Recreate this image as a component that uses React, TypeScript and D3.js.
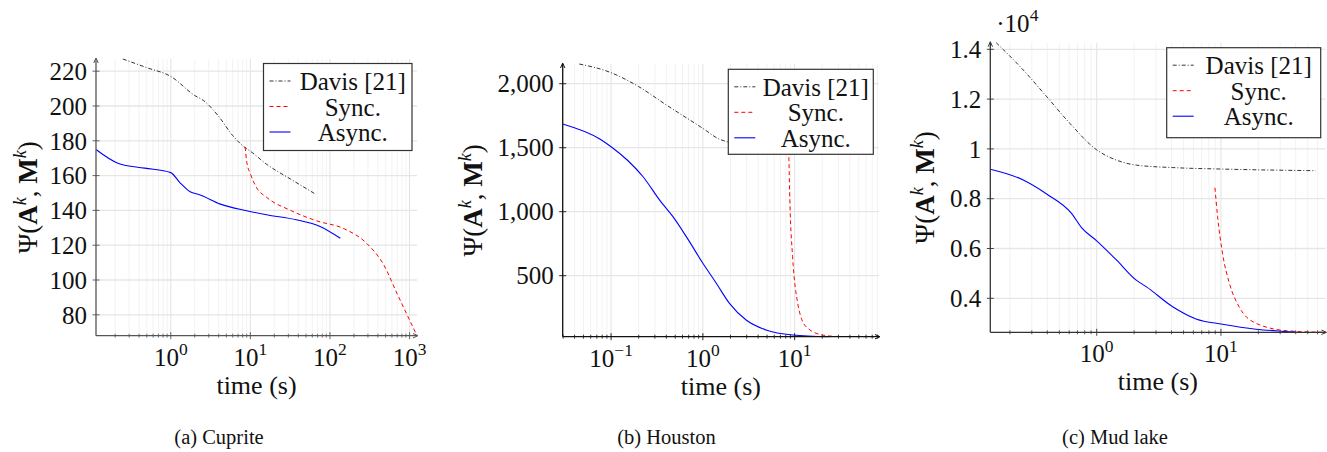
import * as React from 'react';
import { useEffect, useRef } from 'react';
import * as d3 from 'd3';

type Pt = [number, number];

// values (time in s, objective value)
const cupriteDavis: Pt[] = [
  [0.25, 227], [0.5, 222], [1, 217], [2, 206], [2.6, 203], [4, 194], [6, 183],
  [8.6, 176], [10, 174], [16, 166.5], [32, 158], [64, 149.7],
];
const cupriteSync: Pt[] = [
  [8.6, 176.5], [9.0, 168], [10, 161], [12, 153], [16, 147.5], [32, 140], [68, 134],
  [150, 129.5], [290, 121], [470, 109], [700, 92], [1240, 68],
];
const cupriteAsync: Pt[] = [
  [0.115, 175], [0.22, 167], [0.47, 164.3], [1, 161.7], [1.3, 156], [1.75, 150.7], [2.3, 149],
  [4.2, 143.6], [9, 139.8], [16, 137.5], [38, 134.6], [75, 130.8], [135, 124],
];

const houstonDavis: Pt[] = [
  [0.045, 2154], [0.1, 2086], [0.2, 1977], [0.4, 1834], [1, 1651], [1.5, 1568],
  [2, 1540], [5, 1495], [10, 1470], [20, 1450],
];
const houstonSync: Pt[] = [
  [8.55, 1480], [8.6, 1456], [8.9, 1039], [9.5, 648], [10.8, 284], [13.3, 102],
  [20, 37], [30, 25], [83, 23.4],
];
const houstonAsync: Pt[] = [
  [0.0297, 1685], [0.0753, 1568], [0.1, 1508], [0.153, 1398], [0.223, 1273],
  [0.338, 1091], [0.472, 961], [0.66, 805], [1, 597], [1.4, 441], [1.95, 284],
  [2.96, 154], [4.87, 76], [9.5, 37], [23.8, 23.4],
];

const mudDavis: Pt[] = [
  [0.155, 14265], [0.256, 13170], [0.395, 12100], [0.607, 11030], [1, 9960],
  [1.44, 9550], [2.08, 9350], [4.09, 9250], [10.3, 9190], [57.8, 9125],
];
const mudSync: Pt[] = [
  [8.95, 8440], [9.4, 7280], [10.3, 5810], [11.7, 4600], [14, 3660], [19.1, 3000],
  [35.3, 2690], [69.5, 2635],
];
const mudAsync: Pt[] = [
  [0.139, 9180], [0.256, 8750], [0.395, 8190], [0.627, 7410], [0.754, 6840],
  [1, 6310], [1.44, 5540], [2.08, 4730], [2.5, 4470], [4.09, 3660], [6.3, 3170],
  [10.3, 2960], [19.1, 2760], [35.3, 2660], [40, 2640],
];

const seriesNames = ['Davis [21]', 'Sync.', 'Async.'];
const seriesColors = ['#000000', '#ff0000', '#0000ff'];
const seriesDash = ['4 2 1 2', '4 3', ''];
const seriesWidth = [0.8, 1, 1.1];

const cupriteYTicks = [80, 100, 120, 140, 160, 180, 200, 220];
const houstonYTicks = [500, 1000, 1500, 2000];
const mudYTicks = [4000, 6000, 8000, 10000, 12000, 14000];
const cupriteXTicks = [1, 10, 100, 1000];
const houstonXTicks = [0.1, 1, 10];
const mudXTicks = [1, 10];
const captions = ['(a) Cuprite', '(b) Houston', '(c) Mud lake'];

const FONT = "'Liberation Serif', 'Times New Roman', Times, 'DejaVu Serif', serif";

interface PanelSpec {
  id: string;
  series: Pt[][];
  xTicks: number[];
  yTicks: number[];
  yFormat: (v: number) => string;
  left: number; right: number; top: number; bottom: number;
  legend: { x: number; y: number; w: number; h: number };
  labelX: number;
  captionX: number;
  caption: string;
  axisColor: string;
  scaleNote?: string;
}

const panels: PanelSpec[] = [
  {
    id: 'a', series: [cupriteDavis, cupriteSync, cupriteAsync],
    xTicks: cupriteXTicks, yTicks: cupriteYTicks, yFormat: (v) => String(v),
    left: 96, right: 417, top: 59, bottom: 335.7,
    legend: { x: 263.5, y: 63.5, w: 148.5, h: 87 },
    labelX: 28, captionX: 219, caption: captions[0], axisColor: '#555',
  },
  {
    id: 'b', series: [houstonDavis, houstonSync, houstonAsync],
    xTicks: houstonXTicks, yTicks: houstonYTicks, yFormat: d3.format(','),
    left: 562.7, right: 879, top: 64, bottom: 336.7,
    legend: { x: 728.3, y: 69.3, w: 145, h: 85 },
    labelX: 473, captionX: 666.5, caption: captions[1], axisColor: '#111',
  },
  {
    id: 'c', series: [mudDavis, mudSync, mudAsync],
    xTicks: mudXTicks, yTicks: mudYTicks, yFormat: (v) => String(+(v / 1e4).toFixed(1)),
    left: 990.3, right: 1325.5, top: 42.7, bottom: 332.3,
    legend: { x: 1166.7, y: 47.7, w: 154, h: 90 },
    labelX: 925, captionX: 1115, caption: captions[2], axisColor: '#333', scaleNote: '4',
  },
];

function expLabel(sel: d3.Selection<SVGTextElement, unknown, null, undefined>, base: string, exp: string, size: number) {
  sel.append('tspan').text(base);
  sel.append('tspan').attr('dy', -size * 0.42).attr('font-size', size * 0.7).text(exp);
}

function drawPanel(svg: d3.Selection<SVGSVGElement, unknown, null, undefined>, p: PanelSpec) {
  const all = p.series.flat();
  const x = d3.scaleLog().domain(d3.extent(all, (d) => d[0]) as [number, number]).range([p.left, p.right]);
  const y = d3.scaleLinear().domain(d3.extent(all, (d) => d[1]) as [number, number]).range([p.bottom, p.top]);
  const g = svg.append('g');

  // log minor ticks 2..9 per decade
  const [x0, x1] = x.domain();
  const minor: number[] = [];
  for (let e = Math.floor(Math.log10(x0)); e <= Math.ceil(Math.log10(x1)); e++) {
    for (let k = 2; k <= 9; k++) {
      const v = +(k * Math.pow(10, e)).toPrecision(6);
      if (v >= x0 && v <= x1) minor.push(v);
    }
  }

  g.selectAll('.minor').data(minor).enter().append('line')
    .attr('x1', (d) => x(d)).attr('x2', (d) => x(d))
    .attr('y1', p.top).attr('y2', p.bottom)
    .attr('stroke', '#f0f0f0').attr('stroke-width', 0.9);
  g.selectAll('.majorx').data(p.xTicks).enter().append('line')
    .attr('x1', (d) => x(d)).attr('x2', (d) => x(d))
    .attr('y1', p.top).attr('y2', p.bottom)
    .attr('stroke', '#e2e2e2').attr('stroke-width', 1);
  g.selectAll('.majory').data(p.yTicks).enter().append('line')
    .attr('x1', p.left).attr('x2', p.right)
    .attr('y1', (d) => y(d)).attr('y2', (d) => y(d))
    .attr('stroke', '#e6e6e6').attr('stroke-width', 1.3);

  // series
  const clipId = 'clip-' + p.id;
  svg.append('clipPath').attr('id', clipId).append('rect')
    .attr('x', p.left).attr('y', p.top - 1).attr('width', p.right - p.left).attr('height', p.bottom - p.top + 2);
  const line = d3.line<Pt>().x((d) => x(d[0])).y((d) => y(d[1])).curve(d3.curveMonotoneX);
  p.series.forEach((s, i) => {
    g.append('path')
      .attr('d', line(s))
      .attr('fill', 'none')
      .attr('clip-path', `url(#${clipId})`)
      .attr('stroke', seriesColors[i])
      .attr('stroke-width', seriesWidth[i])
      .attr('stroke-dasharray', seriesDash[i] || null);
  });

  // axes with small arrows
  const ax = p.axisColor;
  g.append('line').attr('x1', p.left).attr('x2', p.left).attr('y1', p.bottom).attr('y2', p.top)
    .attr('stroke', ax).attr('stroke-width', 1.3);
  g.append('line').attr('x1', p.left).attr('x2', p.right).attr('y1', p.bottom).attr('y2', p.bottom)
    .attr('stroke', ax).attr('stroke-width', 1.3);
  g.append('path')
    .attr('d', `M${p.left - 2.2},${p.top + 4} L${p.left},${p.top - 1} L${p.left + 2.2},${p.top + 4}`)
    .attr('fill', 'none').attr('stroke', ax).attr('stroke-width', 1);
  g.append('path')
    .attr('d', `M${p.right - 4},${p.bottom - 2.2} L${p.right + 1},${p.bottom} L${p.right - 4},${p.bottom + 2.2}`)
    .attr('fill', 'none').attr('stroke', ax).attr('stroke-width', 1);

  g.selectAll('.xminor').data(minor).enter().append('line')
    .attr('x1', (d) => x(d)).attr('x2', (d) => x(d))
    .attr('y1', p.bottom - 2).attr('y2', p.bottom + 2)
    .attr('stroke', ax).attr('stroke-width', 0.8);
  g.selectAll('.xmajor').data(p.xTicks).enter().append('line')
    .attr('x1', (d) => x(d)).attr('x2', (d) => x(d))
    .attr('y1', p.bottom - 3.5).attr('y2', p.bottom + 3.5)
    .attr('stroke', ax).attr('stroke-width', 0.9);
  g.selectAll('.ytick').data(p.yTicks).enter().append('line')
    .attr('x1', p.left - 3.5).attr('x2', p.left + 3.5)
    .attr('y1', (d) => y(d)).attr('y2', (d) => y(d))
    .attr('stroke', ax).attr('stroke-width', 0.9);

  // tick labels
  p.yTicks.forEach((v) => {
    g.append('text')
      .attr('x', p.left - 9).attr('y', y(v)).attr('dy', '0.35em')
      .attr('text-anchor', 'end').attr('font-size', 25).attr('fill', '#111')
      .text(p.yFormat(v));
  });
  p.xTicks.forEach((v) => {
    const t = g.append('text')
      .attr('x', x(v)).attr('y', p.bottom + 30)
      .attr('text-anchor', 'middle').attr('font-size', 25).attr('fill', '#111');
    const e = Math.round(Math.log10(v));
    expLabel(t, '10', e < 0 ? '\u2212' + -e : String(e), 25);
  });

  if (p.scaleNote) {
    const t = g.append('text').attr('x', p.left + 6).attr('y', p.top - 11)
      .attr('font-size', 25).attr('fill', '#111');
    expLabel(t, '\u00b710', p.scaleNote, 25);
  }

  // axis labels
  g.append('text')
    .attr('x', (p.left + p.right) / 2).attr('y', p.bottom + 58)
    .attr('text-anchor', 'middle').attr('font-size', 26).attr('fill', '#111')
    .text('time (s)');
  const cy = (p.top + p.bottom) / 2;
  const yl = g.append('text')
    .attr('transform', `translate(${p.labelX},${cy}) rotate(-90)`)
    .attr('dy', '0.35em')
    .attr('text-anchor', 'middle').attr('font-size', 27).attr('fill', '#111');
  yl.append('tspan').text('\u03a8(');
  yl.append('tspan').attr('font-weight', 'bold').text('A');
  yl.append('tspan').attr('dy', -11).attr('font-size', 18).attr('font-style', 'italic').text('k');
  yl.append('tspan').attr('dy', 11).text(', ');
  yl.append('tspan').attr('font-weight', 'bold').text('M');
  yl.append('tspan').attr('dy', -11).attr('font-size', 18).attr('font-style', 'italic').text('k');
  yl.append('tspan').attr('dy', 11).text(')');

  // legend
  const L = p.legend;
  const lg = g.append('g');
  lg.append('rect').attr('x', L.x).attr('y', L.y).attr('width', L.w).attr('height', L.h)
    .attr('fill', '#fff').attr('stroke', '#333').attr('stroke-width', 1.2);
  const textCx = (L.x + 30 + L.x + L.w) / 2;
  seriesNames.forEach((name, i) => {
    const base = L.y + 26.5 + i * 25.5;
    lg.append('line')
      .attr('x1', L.x + 6).attr('x2', L.x + 27)
      .attr('y1', base - 9).attr('y2', base - 9)
      .attr('stroke', seriesColors[i]).attr('stroke-width', seriesWidth[i])
      .attr('stroke-dasharray', seriesDash[i] || null);
    lg.append('text')
      .attr('x', textCx).attr('y', base)
      .attr('text-anchor', 'middle').attr('font-size', 25).attr('fill', '#111')
      .text(name);
  });

  // caption
  g.append('text')
    .attr('x', p.captionX).attr('y', 444)
    .attr('text-anchor', 'middle').attr('font-size', 20.5).attr('fill', '#111')
    .text(p.caption);
}

export default function App() {
  const ref = useRef<SVGSVGElement>(null);

  useEffect(() => {
    if (!ref.current) return;
    const svg = d3.select(ref.current);
    svg.selectAll('*').remove();
    panels.forEach((p) => drawPanel(svg, p));
  }, []);

  return (
    <svg
      ref={ref}
      width={1327}
      height={452}
      style={{ position: 'absolute', left: 0, top: 0, background: '#fff', fontFamily: FONT }}
    />
  );
}
